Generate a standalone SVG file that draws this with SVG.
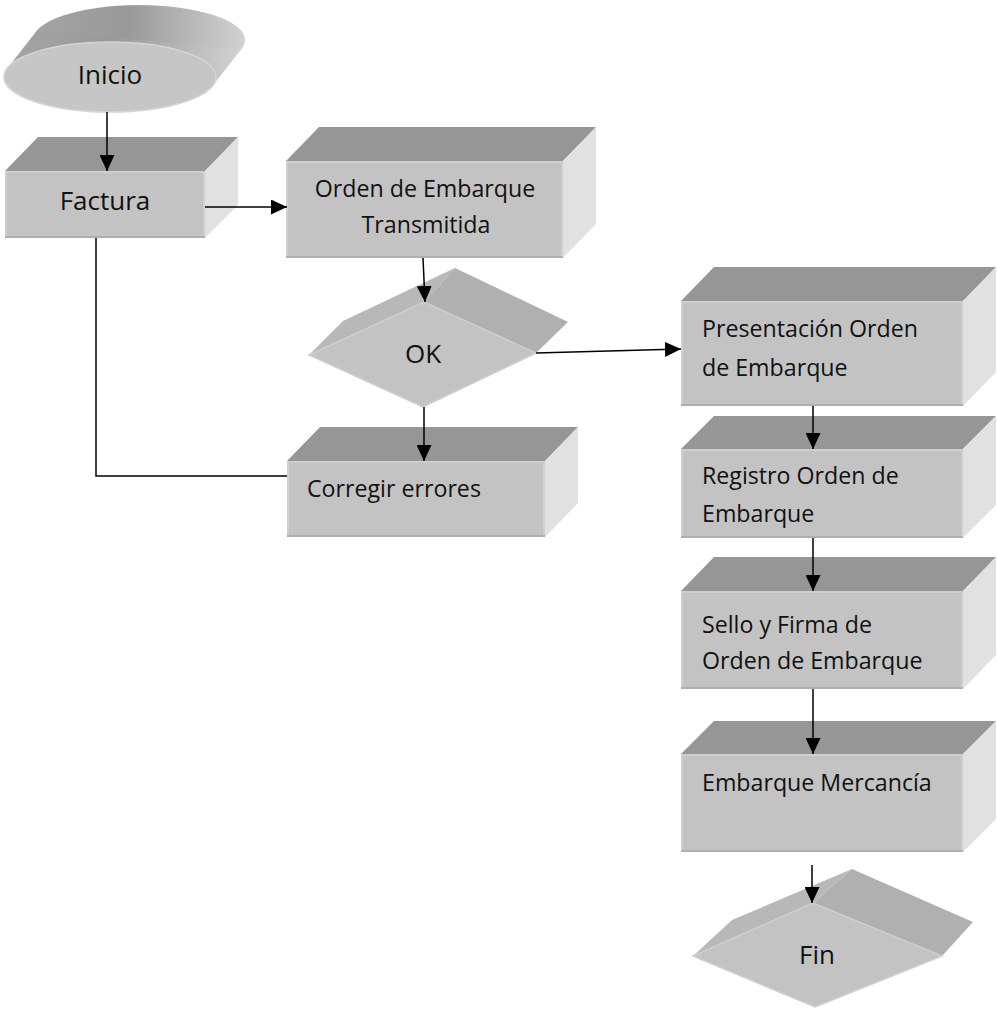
<svg xmlns="http://www.w3.org/2000/svg" width="997" height="1011" viewBox="0 0 997 1011">
  <style>
    .front { fill: #c3c3c3; }
    .rim { fill: none; stroke: #cfcfcf; stroke-width: 2; }
    .base { fill: none; stroke: #aeaeae; stroke-width: 2; }
    .top { fill: #969696; }
    .side { fill: #e1e1e1; }
    .dface-l { fill: #b8b8b8; }
    .dface-r { fill: #b0b0b0; }
    .dfront { fill: #c3c3c3; stroke: #cecece; stroke-width: 1.5; }
    .big { font-family: "Open Sans", "Liberation Sans", sans-serif; font-size: 26px; fill: #111; }
    .lbl { font-family: "Open Sans", "Liberation Sans", sans-serif; font-size: 23.2px; fill: #111; }
    .mid { text-anchor: middle; }
    .wire { fill: none; stroke: #000; stroke-width: 1.5; }
  </style>
  <defs>
    <marker id="arrow" viewBox="0 0 16 15" refX="16" refY="7.5" markerWidth="16" markerHeight="15" markerUnits="userSpaceOnUse" orient="auto">
      <path d="M0,0 L16,7.5 L0,15 Z" fill="#000"/>
    </marker>
    <linearGradient id="band" x1="0" y1="0" x2="1" y2="0">
      <stop offset="0" stop-color="#a4a4a4"/>
      <stop offset="0.45" stop-color="#999999"/>
      <stop offset="1" stop-color="#d2d2d2"/>
    </linearGradient>
  </defs>

  <!-- Start terminator: extruded ellipse -->
  <g id="inicio">
    <ellipse cx="139" cy="40" rx="106" ry="35" fill="url(#band)"/>
    <polygon points="7.4,68.2 36.4,31.2 241.6,48.8 212.6,85.8" fill="url(#band)"/>
    <ellipse cx="110" cy="77" rx="106" ry="35" fill="#c6c6c6" stroke="#d4d4d4" stroke-width="1.5"/>
    <text class="big mid" x="110" y="84">Inicio</text>
  </g>

  <g id="factura">
    <polygon class="top" points="5,171 38,137 238,137 205,171"/>
    <polygon class="side" points="205,171 238,137 238,205 205,238"/>
    <rect class="front" x="5" y="171" width="200" height="67"/>
    <rect class="rim" x="6" y="172" width="198" height="65"/>
    <line class="base" x1="5" y1="237" x2="205" y2="237"/>
    <text class="big mid" x="105" y="210">Factura</text>
  </g>

  <g id="orden-transmitida">
    <polygon class="top" points="286,161 319,127 596,127 563,161"/>
    <polygon class="side" points="563,161 596,127 596,224 563,258"/>
    <rect class="front" x="286" y="161" width="277" height="97"/>
    <rect class="rim" x="287" y="162" width="275" height="95"/>
    <line class="base" x1="286" y1="257" x2="563" y2="257"/>
    <text class="lbl mid" x="425" y="197">Orden de Embarque</text>
    <text class="lbl mid" x="426" y="233">Transmitida</text>
  </g>

  <g id="ok">
    <polygon class="dface-l" points="309,355 343,321 455,268 424,302"/>
    <polygon class="dface-r" points="424,302 455,268 568,322 536,353"/>
    <polygon class="dfront" points="309,355 424,302 536,353 423,407"/>
    <text class="big mid" x="423" y="363">OK</text>
  </g>

  <g id="corregir">
    <polygon class="top" points="287,461 320,427 578,427 545,461"/>
    <polygon class="side" points="545,461 578,427 578,503 545,537"/>
    <rect class="front" x="287" y="461" width="258" height="76"/>
    <rect class="rim" x="288" y="462" width="256" height="74"/>
    <line class="base" x1="287" y1="536" x2="545" y2="536"/>
    <text class="lbl" x="307" y="497">Corregir errores</text>
  </g>

  <g id="presentacion">
    <polygon class="top" points="681,301 714,267 996,267 963,301"/>
    <polygon class="side" points="963,301 996,267 996,372 963,406"/>
    <rect class="front" x="681" y="301" width="282" height="105"/>
    <rect class="rim" x="682" y="302" width="280" height="103"/>
    <line class="base" x1="681" y1="405" x2="963" y2="405"/>
    <text class="lbl" x="702" y="337">Presentación Orden</text>
    <text class="lbl" x="702" y="376">de Embarque</text>
  </g>

  <g id="registro">
    <polygon class="top" points="681,449 714,416 996,416 963,449"/>
    <polygon class="side" points="963,449 996,416 996,505 963,538"/>
    <rect class="front" x="681" y="449" width="282" height="89"/>
    <rect class="rim" x="682" y="450" width="280" height="87"/>
    <line class="base" x1="681" y1="537" x2="963" y2="537"/>
    <text class="lbl" x="702" y="484">Registro Orden de</text>
    <text class="lbl" x="702" y="522">Embarque</text>
  </g>

  <g id="sello">
    <polygon class="top" points="681,591 714,557 996,557 963,591"/>
    <polygon class="side" points="963,591 996,557 996,655 963,689"/>
    <rect class="front" x="681" y="591" width="282" height="98"/>
    <rect class="rim" x="682" y="592" width="280" height="96"/>
    <line class="base" x1="681" y1="688" x2="963" y2="688"/>
    <text class="lbl" x="702" y="633">Sello y Firma de</text>
    <text class="lbl" x="702" y="669">Orden de Embarque</text>
  </g>

  <g id="embarque">
    <polygon class="top" points="681,754 714,721 996,721 963,754"/>
    <polygon class="side" points="963,754 996,721 996,819 963,852"/>
    <rect class="front" x="681" y="754" width="282" height="98"/>
    <rect class="rim" x="682" y="755" width="280" height="96"/>
    <line class="base" x1="681" y1="851" x2="963" y2="851"/>
    <text class="lbl" x="702" y="791">Embarque Mercancía</text>
  </g>

  <g id="fin">
    <polygon class="dface-l" points="693,956 732,920 852,869 813,903"/>
    <polygon class="dface-r" points="813,903 852,869 973,922 942,956"/>
    <polygon class="dfront" points="693,956 813,903 942,956 815,1007"/>
    <text class="big mid" x="817" y="964">Fin</text>
  </g>

  <g id="connectors">
    <line class="wire" x1="107" y1="112" x2="107" y2="171" marker-end="url(#arrow)"/>
    <line class="wire" x1="205" y1="207" x2="287" y2="207" marker-end="url(#arrow)"/>
    <polyline class="wire" points="96,238 96,476 287,476"/>
    <line class="wire" x1="423" y1="258" x2="425" y2="302" marker-end="url(#arrow)"/>
    <line class="wire" x1="424" y1="407" x2="424" y2="461" marker-end="url(#arrow)"/>
    <line class="wire" x1="536" y1="353" x2="681" y2="349" marker-end="url(#arrow)"/>
    <line class="wire" x1="813" y1="406" x2="813" y2="449" marker-end="url(#arrow)"/>
    <line class="wire" x1="813" y1="538" x2="813" y2="591" marker-end="url(#arrow)"/>
    <line class="wire" x1="813" y1="689" x2="813" y2="754" marker-end="url(#arrow)"/>
    <line class="wire" x1="812" y1="865" x2="812" y2="903" marker-end="url(#arrow)"/>
  </g>
</svg>
